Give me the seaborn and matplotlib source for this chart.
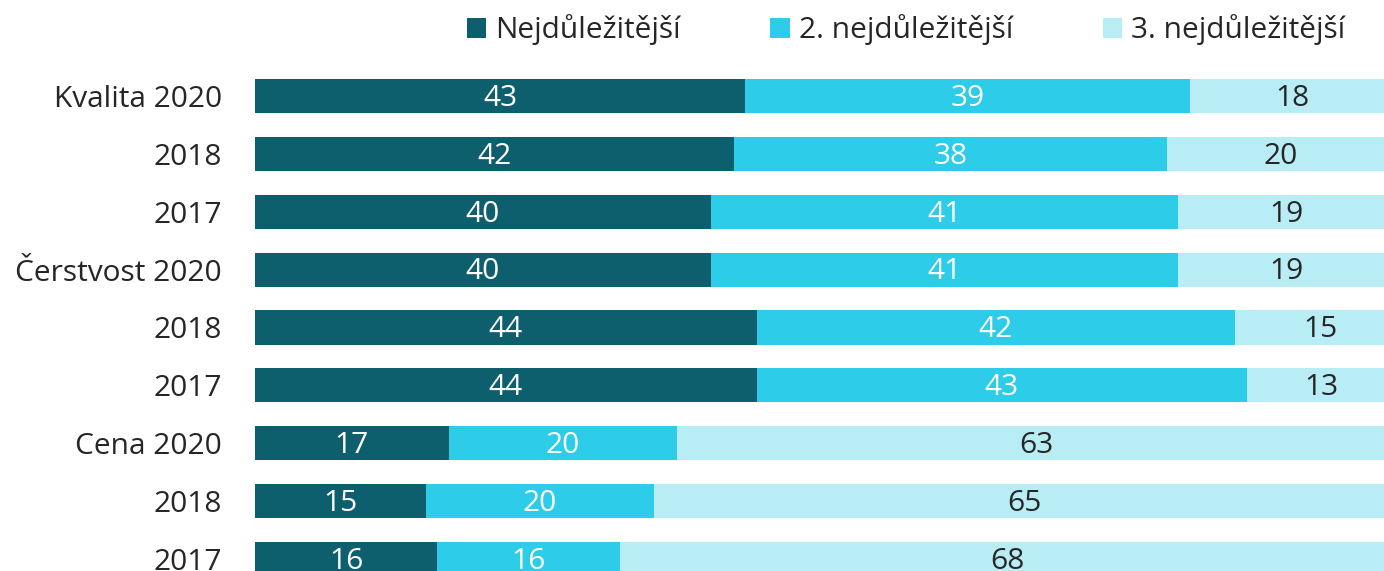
import numpy as np
import pandas as pd
import seaborn as sns
from matplotlib import pyplot as plt
from matplotlib.patches import Patch

# data
row_keys = ["Kvalita 2020", "Kvalita 2018", "Kvalita 2017",
            "Čerstvost 2020", "Čerstvost 2018", "Čerstvost 2017",
            "Cena 2020", "Cena 2018", "Cena 2017"]
row_labels = ["Kvalita 2020", "2018", "2017",
              "Čerstvost 2020", "2018", "2017",
              "Cena 2020", "2018", "2017"]
first = [43, 42, 40, 40, 44, 44, 17, 15, 16]
second = [39, 38, 41, 41, 42, 43, 20, 20, 16]
third = [18, 20, 19, 19, 15, 13, 63, 65, 68]
series_names = ["Nejdůležitější", "2. nejdůležitější", "3. nejdůležitější"]
colors = ["#0e5f6e", "#2dcce8", "#b9edf6"]
text_colors = ["white", "white", "#262626"]

df = pd.DataFrame({"row": row_keys, "s1": first, "s2": second, "s3": third})
df["c1"] = df["s1"]
df["c2"] = df["s1"] + df["s2"]
df["c3"] = df["s1"] + df["s2"] + df["s3"]

sns.set_style("white")
plt.rcParams["font.family"] = ["Open Sans", "DejaVu Sans"]
fs = 21.5

fig = plt.figure(figsize=(13.84, 5.71), dpi=100)
ax = fig.add_axes([255 / 1384, -17 / 571, 1140 / 1384, 521 / 571])

# stacked bars: draw cumulative totals back to front
for col, c in zip(["c3", "c2", "c1"], colors[::-1]):
    sns.barplot(data=df, y="row", x=col, orient="h", color=c,
                width=0.59, saturation=1, ax=ax, linewidth=0)

# value labels in the middle of each segment
for i in range(len(row_keys)):
    left = 0
    for vals, tc in zip([first, second, third], text_colors):
        v = vals[i]
        ax.text(left + v / 2, i + 0.04, str(v), ha="center", va="center",
                color=tc, fontsize=fs)
        left += v

ax.set_xlim(0, 100)
ax.set_ylim(8.5, -0.5)
ax.set_yticks(range(len(row_labels)))
ax.set_yticklabels(row_labels, fontsize=fs, color="#262626")
ax.tick_params(axis="y", length=0, pad=24)
ax.set_xticks([])
ax.set_xlabel("")
ax.set_ylabel("")
sns.despine(ax=ax, left=True, bottom=True)

handles = [Patch(facecolor=c, edgecolor="none") for c in colors]
fig.legend(handles, series_names, loc="center",
           bbox_to_anchor=(906 / 1384, 1 - 30 / 571), ncol=3, frameon=False,
           fontsize=fs, labelcolor="#262626", handlelength=0.65,
           handleheight=0.65, handletextpad=0.3, columnspacing=3.0)

fig.savefig("out.png", dpi=100)
